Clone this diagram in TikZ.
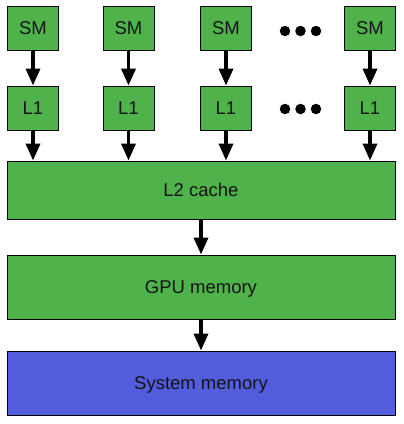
\documentclass[tikz,border=0pt]{standalone}
\usepackage{fontspec}
\setmainfont{Liberation Sans}
\usetikzlibrary{arrows.meta}
\definecolor{boxgreen}{RGB}{79,178,74}
\definecolor{boxblue}{RGB}{82,92,220}
\definecolor{txt}{RGB}{20,20,20}
\tikzset{
  unitbox/.style={draw=black, line width=0.9pt, fill=boxgreen, minimum width=51pt, minimum height=44pt, inner sep=0pt, font=\fontsize{18.5}{22}\selectfont, text=txt, text height=13.2pt, text depth=0pt},
  widebox/.style={unitbox, minimum width=388pt, minimum height=58pt},
  flow/.style={line width=3.5pt, -{Triangle[length=17pt,width=14pt]}, shorten >=0pt},
  dot/.style={circle, fill=black, inner sep=0pt, minimum size=10.5pt}
}
\begin{document}
\begin{tikzpicture}[x=1pt, y=-1pt]
\useasboundingbox (0,0) rectangle (404,424);
\fill[white] (0,0) rectangle (404,424);
% SM row
\node[unitbox] (sm1) at (33,28) {SM};
\node[unitbox] (sm2) at (128.5,28) {SM};
\node[unitbox] (sm3) at (226,28) {SM};
\node[unitbox] (sm4) at (370,28) {SM};
% L1 row
\node[unitbox] (l1a) at (33,108) {L1};
\node[unitbox] (l1b) at (128.5,108) {L1};
\node[unitbox] (l1c) at (226,108) {L1};
\node[unitbox] (l1d) at (370,108) {L1};
% dots
\node[dot] (d1) at (285,31) {};
\node[dot] (d2) at (300.5,31) {};
\node[dot] (d3) at (316,31) {};
\node[dot] (e1) at (285,109) {};
\node[dot] (e2) at (300.5,109) {};
\node[dot] (e3) at (316,109) {};
% wide boxes
\node[widebox] (l2) at (201,190) {L2 cache};
\node[widebox, minimum height=64pt] (gpu) at (201,287) {GPU memory};
\node[widebox, minimum height=64pt, fill=boxblue] (sys) at (201,383) {System memory};
% arrows
\foreach \s/\l in {sm1/l1a, sm2/l1b, sm3/l1c, sm4/l1d}{
  \draw[flow] (\s.south) -- (\l.north);
}
\foreach \l in {l1a, l1b, l1c, l1d}{
  \draw[flow] (\l.south) -- (\l.south |- l2.north);
}
\draw[flow] (l2.south) -- (gpu.north);
\draw[flow] (gpu.south) -- (sys.north);
\end{tikzpicture}
\end{document}
